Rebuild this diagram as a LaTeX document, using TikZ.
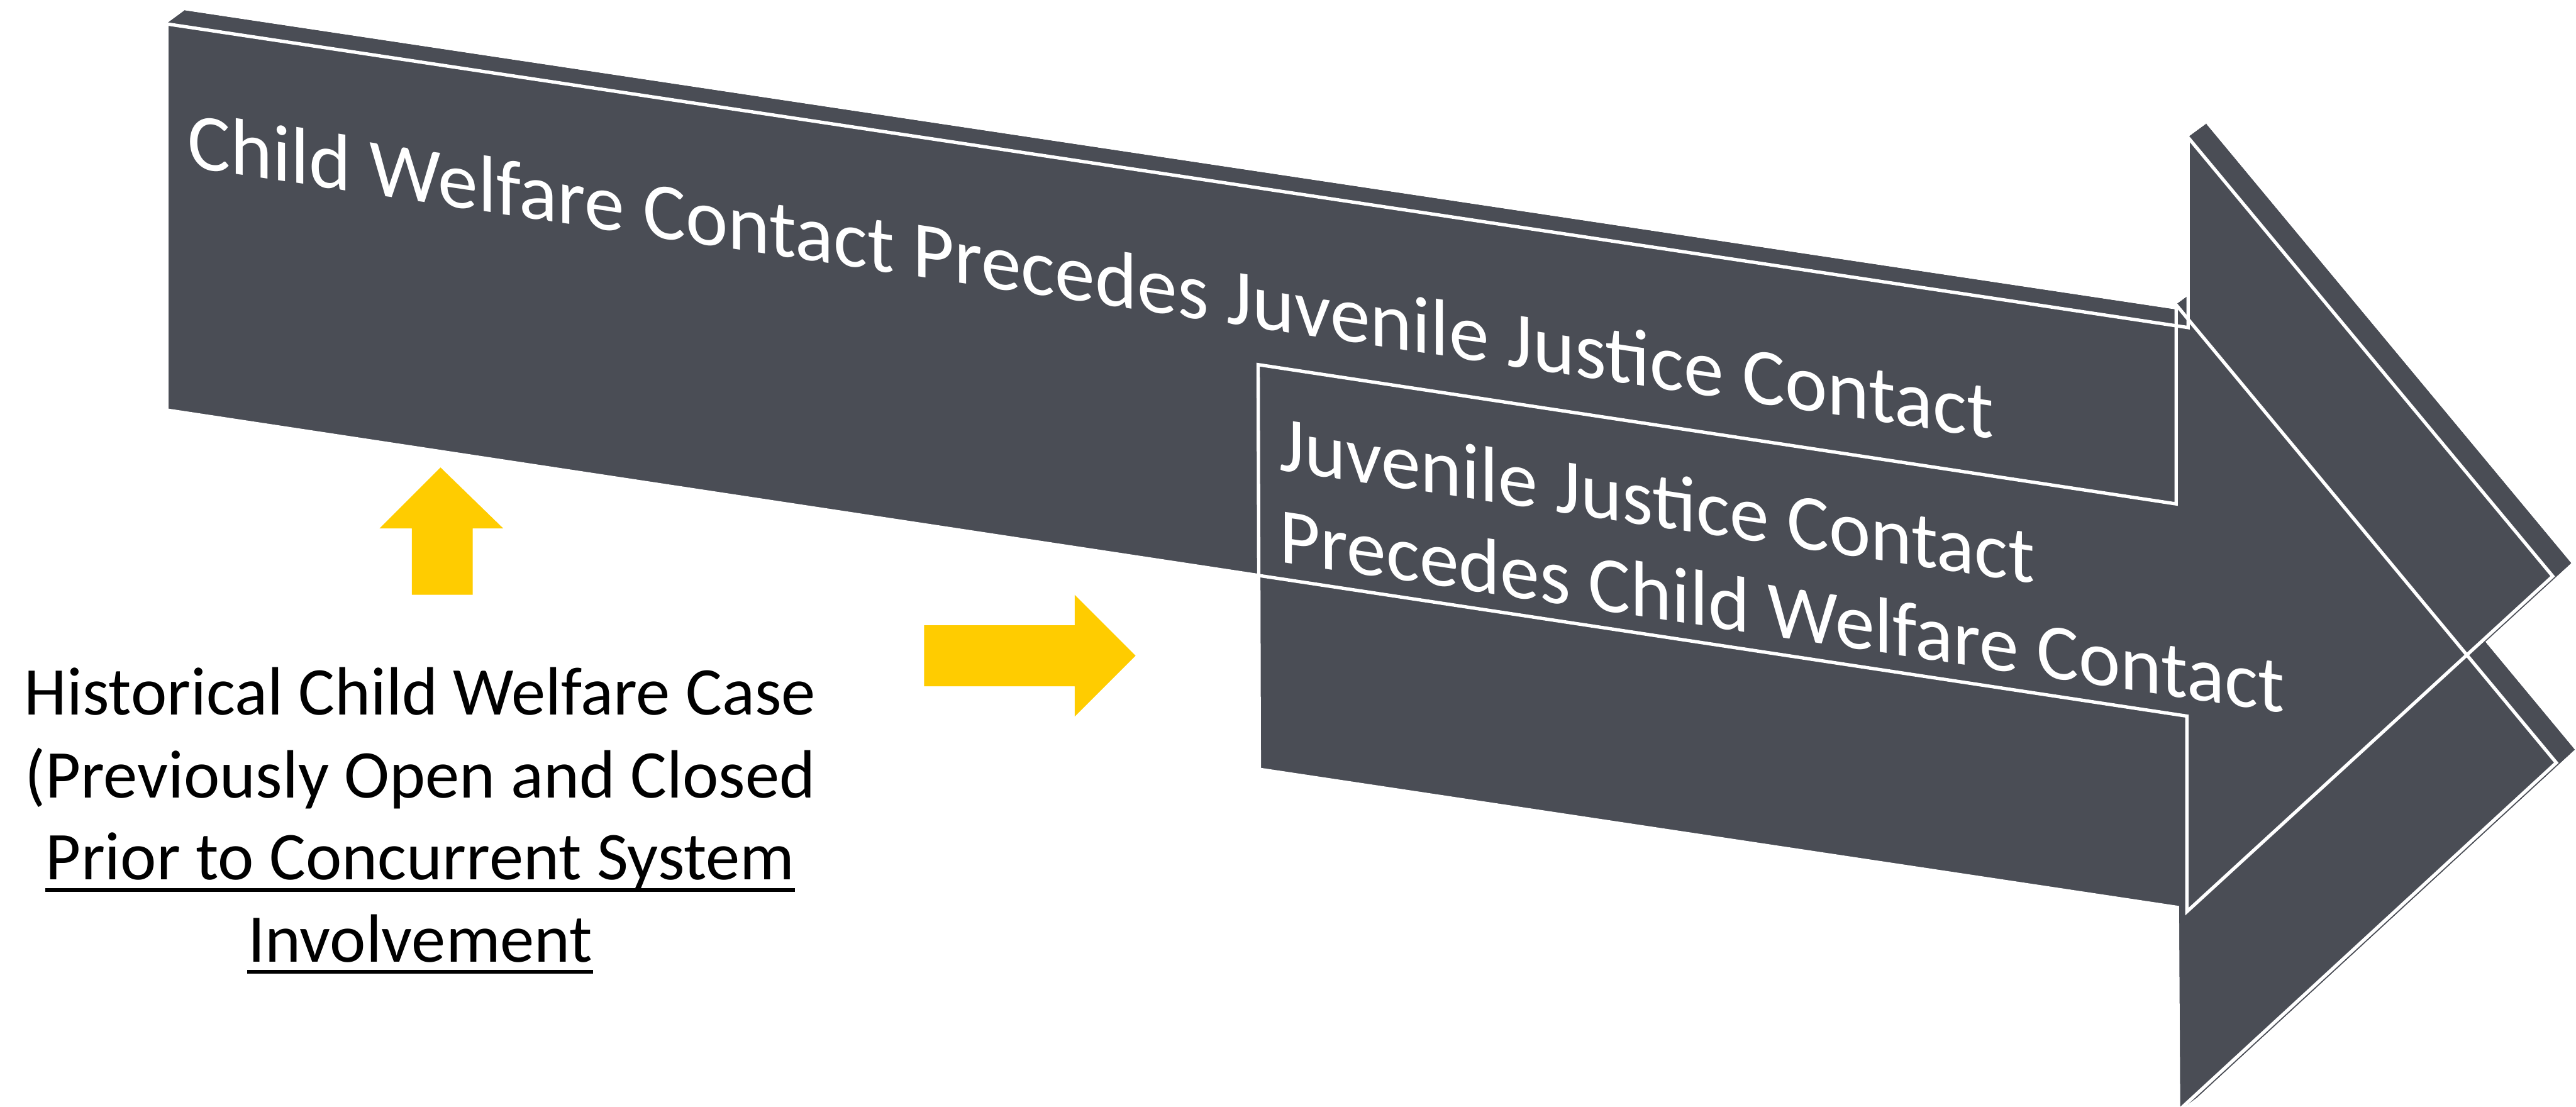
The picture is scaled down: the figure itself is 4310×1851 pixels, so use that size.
\documentclass[tikz,border=0pt]{standalone}
\usepackage{fontspec}
\setmainfont{Carlito}
\usetikzlibrary{calc}

\definecolor{slate}{HTML}{4A4D55}
\definecolor{gold}{HTML}{FFCC00}

\tikzset{
  face/.style={fill=slate, draw=slate, line width=0.3pt},
  rim/.style={draw=white, line width=1.6pt, line join=miter},
  bodytext/.style={text=white, inner sep=0pt, anchor=base west, yslant=-0.1505,
    font=\fontsize{38.2}{45}\selectfont},
  lowertext/.style={bodytext, font=\fontsize{37.6}{45}\selectfont},
  notetext/.style={inner sep=0pt, anchor=base, font=\fontsize{32.5}{39}\selectfont},
  noteline/.style={line width=1.8pt, line cap=butt},
  cue/.style={fill=gold},
}

% Solid extruded arrow: front face, back face and every side face,
% the back face offset up and to the right.
\newcommand\extrude[1]{%
  \foreach \a/\b in {1/2,2/3,3/4,4/5,5/6,6/7,7/1}{
    \filldraw[face] (#1\a) -- (#1\b) -- ($(#1\b)+(30,-22)$) -- ($(#1\a)+(30,-22)$) -- cycle;
  }
  \filldraw[face] (#11) \foreach \i in {2,...,7}{ -- (#1\i) } -- cycle;
  \filldraw[face] ($(#11)+(30,-22)$) \foreach \i in {2,...,7}{ -- ($(#1\i)+(30,-22)$) } -- cycle;
}

\begin{document}
\begin{tikzpicture}[x=0.01cm, y=-0.01cm]
  \useasboundingbox (0,0) rectangle (4310,1851);
  \clip (0,0) rectangle (4310,1851);

  % upper arrow, front face corners
  \coordinate (U1) at (279,40);
  \coordinate (U2) at (3661,548);
  \coordinate (U3) at (3661,230);
  \coordinate (U4) at (4271,964);
  \coordinate (U5) at (3659,1525);
  \coordinate (U6) at (3659,1198);
  \coordinate (U7) at (279,686);

  % lower arrow, front face corners
  \coordinate (L1) at (2105,610);
  \coordinate (L2) at (3641,843);
  \coordinate (L3) at (3641,510);
  \coordinate (L4) at (4277,1276);
  \coordinate (L5) at (3645,1858);
  \coordinate (L6) at (3643,1518);
  \coordinate (L7) at (2107,1287);

  \extrude{U}
  \extrude{L}

  \draw[rim] (U1) -- (U2) -- (U3) -- (U4) -- (U5) -- (U6) -- (U7) -- cycle;
  \draw[rim] (L1) -- (L2) -- (L3) -- (L4) -- (L5) -- (L6) -- (L7) -- cycle;

  % arrow labels
  \node[bodytext] (upperlabel) at (313,279)
    {Child Welfare Contact Precedes Juvenile Justice Contact};
  \node[lowertext] (lowerlabelA) at (2140,786) {Juvenile Justice Contact};
  \node[lowertext] (lowerlabelB) at (2140,940) {Precedes Child Welfare Contact};

  % yellow pointers
  \fill[cue] (689,995) -- (791,995) -- (791,884) -- (842,884) -- (737,782)
             -- (635,884) -- (689,884) -- cycle;
  \fill[cue] (1546,1046) -- (1798,1046) -- (1798,995) -- (1900,1097)
             -- (1798,1199) -- (1798,1148) -- (1546,1148) -- cycle;

  % note below the arrows
  \node[notetext] (noteA) at (703,1196) {Historical Child Welfare Case};
  \node[notetext] (noteB) at (703,1335) {(Previously Open and Closed};
  \node[notetext] (noteC) at (703,1472) {Prior to Concurrent System};
  \node[notetext] (noteD) at (703,1609) {Involvement};
  \draw[noteline] ([yshift=-4.9pt]noteC.base west) -- ([yshift=-4.9pt]noteC.base east);
  \draw[noteline] ([yshift=-4.6pt]noteD.base west) -- ([yshift=-4.6pt]noteD.base east);
\end{tikzpicture}
\end{document}
